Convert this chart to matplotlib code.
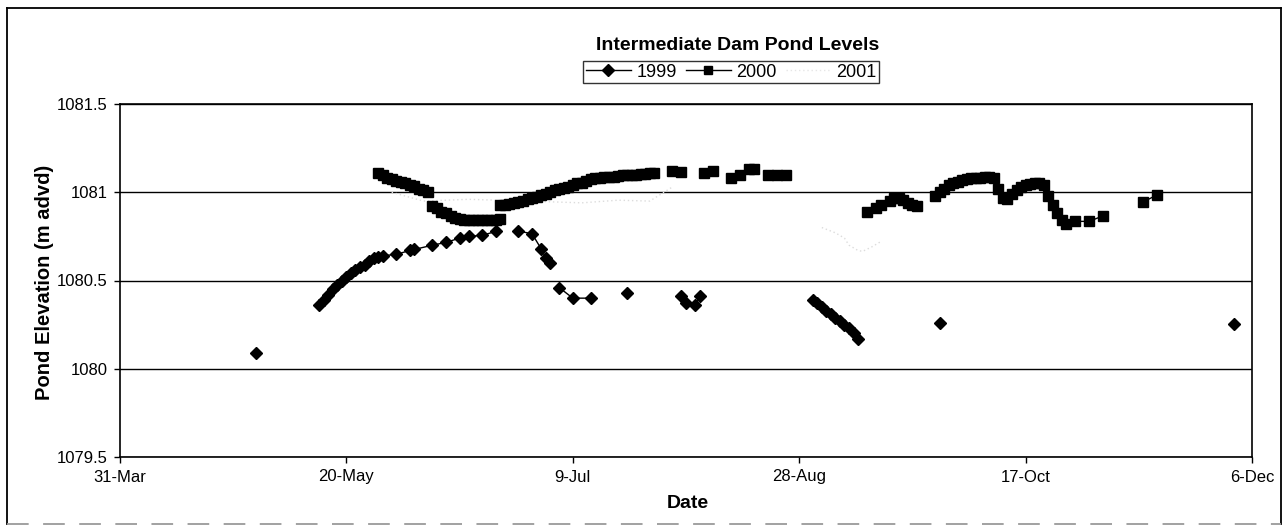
import numpy as np
import matplotlib
matplotlib.use("Agg")
import matplotlib.pyplot as plt
import matplotlib.dates as mdates
from matplotlib.ticker import FuncFormatter
from matplotlib.lines import Line2D
import datetime as dt

plt.rcParams['font.family'] = ['Liberation Sans', 'DejaVu Sans']

title = "Intermediate Dam Pond Levels"
xlabel = "Date"
ylabel = "Pond Elevation (m advd)"
series_names = ["1999", "2000", "2001"]
x_tick_labels = ["31-Mar", "20-May", "9-Jul", "28-Aug", "17-Oct", "6-Dec"]
y_ticks = [1079.5, 1080.0, 1080.5, 1081.0, 1081.5]

# dates as MM-DD (None = break in line)
dates_1999 = ["04-30", None,
              "05-14", "05-15", "05-16", "05-17", "05-18", "05-19", "05-20", "05-21",
              "05-22", "05-23", "05-24", "05-25", "05-26", "05-27", "05-28",
              "05-31", "06-03", "06-04", "06-08", "06-11", "06-14", "06-16", "06-19", "06-22",
              None,
              "06-27", "06-30", "07-02", "07-03", "07-04",
              None,
              "07-06", "07-09", "07-13",
              None,
              "07-21",
              None,
              "08-02", "08-03", "08-05", "08-06",
              None,
              "08-31", "09-01", "09-02", "09-03", "09-04", "09-05", "09-06", "09-07",
              "09-08", "09-09", "09-10",
              None,
              "09-28",
              None,
              "12-02"]
values_1999 = [1080.09, None,
               1080.36, 1080.39, 1080.42, 1080.45, 1080.475, 1080.50, 1080.52, 1080.54,
               1080.56, 1080.575, 1080.59, 1080.61, 1080.625, 1080.635, 1080.64,
               1080.648, 1080.67, 1080.676, 1080.70, 1080.716, 1080.74, 1080.75, 1080.756, 1080.778,
               None,
               1080.78, 1080.765, 1080.68, 1080.63, 1080.60,
               None,
               1080.46, 1080.40, 1080.40,
               None,
               1080.43,
               None,
               1080.41, 1080.37, 1080.36, 1080.41,
               None,
               1080.39, 1080.37, 1080.35, 1080.33, 1080.31, 1080.29, 1080.27, 1080.25,
               1080.23, 1080.20, 1080.17,
               None,
               1080.26,
               None,
               1080.255]

dates_2000 = ["05-27", "05-28", "05-29", "05-30", "05-31", "06-01", "06-02", "06-03",
              "06-04", "06-05", "06-06", "06-07",
              None,
              "06-08", "06-09", "06-10", "06-11", "06-12", "06-13", "06-14", "06-15",
              "06-16", "06-17", "06-18", "06-19", "06-20", "06-21", "06-22", "06-23",
              None,
              "06-23", "06-24", "06-25", "06-26", "06-27", "06-28", "06-29", "06-30",
              "07-01", "07-02", "07-03", "07-04", "07-05", "07-06", "07-07", "07-08",
              "07-09", "07-10", "07-11", "07-12", "07-13", "07-14", "07-15", "07-16",
              "07-17", "07-18", "07-19", "07-20", "07-21", "07-22", "07-23", "07-24",
              "07-25", "07-26", "07-27",
              None,
              "07-31", "08-02",
              None,
              "08-07", "08-09",
              None,
              "08-13", "08-15", "08-17", "08-18",
              None,
              "08-21", "08-23", "08-25",
              None,
              "09-12", "09-14", "09-15", "09-17", "09-18", "09-19", "09-20", "09-21",
              "09-22", "09-23",
              None,
              "09-27", "09-28", "09-29", "09-30", "10-01", "10-02", "10-03", "10-04",
              "10-05", "10-06", "10-07", "10-08", "10-09", "10-10", "10-11", "10-12",
              "10-13", "10-14", "10-15", "10-16", "10-17", "10-18", "10-19", "10-20",
              "10-21", "10-22", "10-23", "10-24", "10-25", "10-26", "10-28", "10-31",
              "11-03",
              None,
              "11-12", "11-15"]
values_2000 = [1081.11, 1081.095, 1081.08, 1081.075, 1081.065, 1081.06, 1081.05, 1081.04,
               1081.035, 1081.02, 1081.01, 1081.00,
               None,
               1080.92, 1080.91, 1080.89, 1080.88, 1080.865, 1080.855, 1080.85, 1080.845,
               1080.84, 1080.84, 1080.84, 1080.84, 1080.84, 1080.845, 1080.845, 1080.85,
               None,
               1080.925, 1080.93, 1080.935, 1080.94, 1080.945, 1080.95, 1080.96, 1080.97,
               1080.975, 1080.985, 1080.99, 1081.00, 1081.01, 1081.02, 1081.025, 1081.03,
               1081.04, 1081.05, 1081.055, 1081.065, 1081.075, 1081.08, 1081.08, 1081.085,
               1081.085, 1081.085, 1081.09, 1081.095, 1081.095, 1081.10, 1081.10, 1081.105,
               1081.105, 1081.11, 1081.11,
               None,
               1081.12, 1081.115,
               None,
               1081.11, 1081.12,
               None,
               1081.08, 1081.10, 1081.13, 1081.13,
               None,
               1081.10, 1081.10, 1081.10,
               None,
               1080.89, 1080.91, 1080.93, 1080.95, 1080.97, 1080.97, 1080.955, 1080.94,
               1080.93, 1080.92,
               None,
               1080.98, 1081.00, 1081.02, 1081.04, 1081.05, 1081.06, 1081.07, 1081.075,
               1081.08, 1081.08, 1081.08, 1081.085, 1081.085, 1081.08, 1081.02, 1080.97,
               1080.96, 1080.99, 1081.01, 1081.03, 1081.04, 1081.045, 1081.05, 1081.05,
               1081.04, 1080.98, 1080.93, 1080.88, 1080.84, 1080.82, 1080.835, 1080.835,
               1080.865,
               None,
               1080.945, 1080.985]

dates_2001 = ["05-30", "06-06", "06-16", "06-29", "07-11", "07-19", "07-26", "07-31",
              None,
              "09-02", "09-05", "09-07", "09-08", "09-10", "09-11", "09-13", "09-15"]
values_2001 = [1081.00, 1080.95, 1080.96, 1080.95, 1080.94, 1080.955, 1080.95, 1081.03,
               None,
               1080.80, 1080.77, 1080.74, 1080.70, 1080.67, 1080.665, 1080.69, 1080.72]

YEAR = 2001


def to_dates(ds):
    out = []
    for d in ds:
        if d is None:
            out.append(np.nan)
        else:
            m, dd = d.split("-")
            out.append(mdates.date2num(dt.datetime(YEAR, int(m), int(dd))))
    return np.array(out, dtype=float)


def to_vals(vs):
    return np.array([np.nan if v is None else v for v in vs], dtype=float)


W, H = 1288, 527
fig = plt.figure(figsize=(W / 100, H / 100), dpi=100)
ax = fig.add_axes([120 / W, 1 - 457 / H, (1252 - 120) / W, (457 - 104) / H])

x99, y99 = to_dates(dates_1999), to_vals(values_1999)
x00, y00 = to_dates(dates_2000), to_vals(values_2000)
x01, y01 = to_dates(dates_2001), to_vals(values_2001)

l1, = ax.plot(x99, y99, color='black', lw=1.0, marker='D', ms=6, mfc='black', mec='black',
              label=series_names[0], zorder=4)
l2, = ax.plot(x00, y00, color='black', lw=1.0, marker='s', ms=7.5, mfc='black', mec='black',
              label=series_names[1], zorder=4)
l3, = ax.plot(x01, y01, color='#dcdcdc', lw=1.0, linestyle=(0, (1, 2)),
              label=series_names[2], zorder=3)

start = mdates.date2num(dt.datetime(YEAR, 3, 31))
end = mdates.date2num(dt.datetime(YEAR, 12, 6))
ax.set_xlim(start, end)
ax.set_ylim(y_ticks[0], y_ticks[-1])
ax.set_xticks(np.linspace(start, end, len(x_tick_labels)))
ax.set_xticklabels(x_tick_labels)
ax.set_yticks(y_ticks)
ax.yaxis.set_major_formatter(FuncFormatter(lambda v, p: ("%.1f" % v).rstrip('0').rstrip('.')))
ax.tick_params(axis='both', direction='out', length=4, width=1, labelsize=12, colors='black', pad=5)
ax.yaxis.grid(True, color='black', lw=1)
ax.set_axisbelow(True)
for s in ax.spines.values():
    s.set_color('black')
    s.set_linewidth(1.2)

fig.text(45 / W, 1 - 282 / H, ylabel, rotation=90, ha='center', va='center',
         fontsize=14.5, fontweight='bold')
fig.text(688 / W, 1 - 504 / H, xlabel, ha='center', va='center', fontsize=14, fontweight='bold')
fig.text(738 / W, 1 - 45 / H, title, ha='center', va='center', fontsize=14, fontweight='bold')

h1 = Line2D([], [], color='black', lw=1.0, marker='D', ms=6, mfc='black', mec='black')
h2 = Line2D([], [], color='black', lw=1.0, marker='s', ms=6, mfc='black', mec='black')
h3 = Line2D([], [], color='#e6e6e6', lw=1.0, linestyle=(0, (1, 2)))
leg = fig.legend(handles=[h1, h2, h3], labels=series_names, loc='upper center',
                 bbox_to_anchor=(731 / W, 1 - 61 / H),
                 ncol=3, frameon=True, fancybox=False, shadow=False, fontsize=13,
                 handlelength=2.5, handletextpad=0.3, columnspacing=0.5, borderpad=0.15,
                 borderaxespad=0.0)
leg.get_frame().set_edgecolor('black')
leg.get_frame().set_linewidth(1.0)

# outer chart-area border
fig.add_artist(Line2D([7 / W, 1281 / W], [1 - 8 / H, 1 - 8 / H], transform=fig.transFigure,
                      color='black', lw=1.3))
fig.add_artist(Line2D([7 / W, 7 / W], [1 - 8 / H, 1 - 524 / H], transform=fig.transFigure,
                      color='black', lw=1.3))
fig.add_artist(Line2D([1281 / W, 1281 / W], [1 - 8 / H, 1 - 524 / H], transform=fig.transFigure,
                      color='black', lw=1.3))
fig.add_artist(Line2D([7 / W, 1281 / W], [1 - 524 / H, 1 - 524 / H], transform=fig.transFigure,
                      color='#9a9a9a', lw=1.3, linestyle=(0, (12, 8))))

fig.savefig("out.png", dpi=100)
